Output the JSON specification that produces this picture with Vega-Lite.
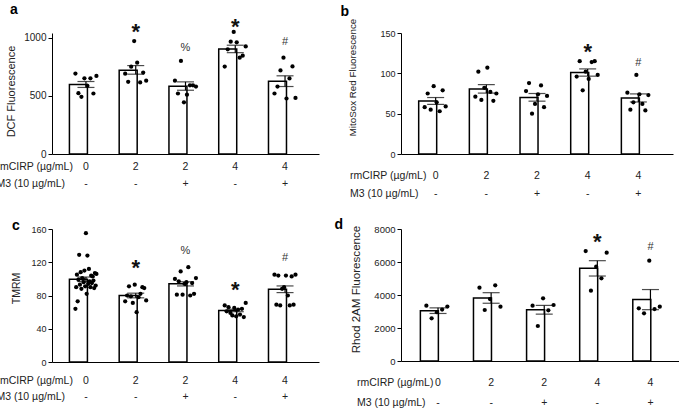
{
"$schema": "https://vega.github.io/schema/vega-lite/v6.json",
"background": "white",
"padding": {"left": -4, "top": 2, "right": 0, "bottom": 0},
"columns": 2,
"spacing": {"row": 17, "column": 15},
"config": {
 "font": "Liberation Sans",
 "view": {"stroke": null},
 "axis": {"labelColor": "#222", "titleColor": "#222", "domainColor": "#000", "tickColor": "#000", "domainWidth": 1, "titleFontWeight": "normal", "grid": false, "labelOverlap": false},
 "axisX": {"ticks": false, "tickSize": 0, "labelAngle": 0, "labelBaseline": "top", "titleAlign": "left", "titleBaseline": "top", "titleFontSize": 10.5, "labelFontSize": 10.5},
 "axisY": {"tickSize": 4, "labelPadding": 2, "titleBaseline": "middle", "titleAlign": "center", "titleAngle": -90, "format": "d", "labelOverlap": false},
 "title": {"fontSize": 14, "fontWeight": "bold", "anchor": "start", "frame": "group", "baseline": "alphabetic", "color": "#000"},
 "circle": {"size": 18, "opacity": 1, "color": "#000"},
 "text": {"color": "#222"}
},
"datasets": {
 "bars": [
  {"p":"a","g":"0|-","v":598,"lo":572,"hi":623},
  {"p":"a","g":"2|-","v":720,"lo":686,"hi":760},
  {"p":"a","g":"2|+","v":583,"lo":548,"hi":620},
  {"p":"a","g":"4|-","v":903,"lo":871,"hi":935},
  {"p":"a","g":"4|+","v":626,"lo":580,"hi":672},
  {"p":"b","g":"0|-","v":65.7,"lo":61.5,"hi":70},
  {"p":"b","g":"2|-","v":80.6,"lo":75.5,"hi":86},
  {"p":"b","g":"2|+","v":70,"lo":65.5,"hi":75},
  {"p":"b","g":"4|-","v":101,"lo":96.5,"hi":105.5},
  {"p":"b","g":"4|+","v":69.5,"lo":64.5,"hi":74.5},
  {"p":"c","g":"0|-","v":99.5,"lo":96.8,"hi":102.2},
  {"p":"c","g":"2|-","v":80,"lo":77.2,"hi":82.8},
  {"p":"c","g":"2|+","v":94,"lo":91.5,"hi":96.5},
  {"p":"c","g":"4|-","v":62,"lo":60.5,"hi":63.5},
  {"p":"c","g":"4|+","v":87.5,"lo":83.5,"hi":91.5},
  {"p":"d","g":"0|-","v":3050,"lo":2880,"hi":3220},
  {"p":"d","g":"2|-","v":3820,"lo":3500,"hi":4140},
  {"p":"d","g":"2|+","v":3100,"lo":2840,"hi":3370},
  {"p":"d","g":"4|-","v":5620,"lo":5150,"hi":6080},
  {"p":"d","g":"4|+","v":3720,"lo":3110,"hi":4330}
 ],
 "sig": [
  {"p":"a","g":"2|-","s":"*","v":1090},
  {"p":"a","g":"2|+","s":"%","v":912},
  {"p":"a","g":"4|-","s":"*","v":1136},
  {"p":"a","g":"4|+","s":"#","v":961},
  {"p":"b","g":"4|-","s":"*","v":133},
  {"p":"b","g":"4|+","s":"#","v":112.6},
  {"p":"c","g":"2|-","s":"*","v":118.6},
  {"p":"c","g":"2|+","s":"%","v":134},
  {"p":"c","g":"4|-","s":"*","v":92.5},
  {"p":"c","g":"4|+","s":"#","v":125.6},
  {"p":"d","g":"4|-","s":"*","v":7503},
  {"p":"d","g":"4|+","s":"#","v":6879}
 ],
 "pts": [
  {"p":"a","g":"0|-","r":1,"v":691},{"p":"a","g":"0|-","r":2,"v":523},{"p":"a","g":"0|-","r":3,"v":491},{"p":"a","g":"0|-","r":4,"v":651},{"p":"a","g":"0|-","r":5,"v":586},{"p":"a","g":"0|-","r":6,"v":651},{"p":"a","g":"0|-","r":7,"v":520},{"p":"a","g":"0|-","r":8,"v":671},
  {"p":"a","g":"2|-","r":1,"v":690},{"p":"a","g":"2|-","r":2,"v":620},{"p":"a","g":"2|-","r":3,"v":750},{"p":"a","g":"2|-","r":4,"v":971},{"p":"a","g":"2|-","r":5,"v":785},{"p":"a","g":"2|-","r":6,"v":615},{"p":"a","g":"2|-","r":7,"v":700},{"p":"a","g":"2|-","r":8,"v":630},
  {"p":"a","g":"2|+","r":1,"v":630},{"p":"a","g":"2|+","r":2,"v":520},{"p":"a","g":"2|+","r":3,"v":800},{"p":"a","g":"2|+","r":4,"v":444},{"p":"a","g":"2|+","r":5,"v":510},{"p":"a","g":"2|+","r":6,"v":590},{"p":"a","g":"2|+","r":7,"v":590},{"p":"a","g":"2|+","r":8,"v":580},
  {"p":"a","g":"4|-","r":1,"v":752},{"p":"a","g":"4|-","r":2,"v":900},{"p":"a","g":"4|-","r":3,"v":965},{"p":"a","g":"4|-","r":4,"v":1049},{"p":"a","g":"4|-","r":5,"v":960},{"p":"a","g":"4|-","r":6,"v":828},{"p":"a","g":"4|-","r":7,"v":845},{"p":"a","g":"4|-","r":8,"v":925},
  {"p":"a","g":"4|+","r":1,"v":520},{"p":"a","g":"4|+","r":2,"v":580},{"p":"a","g":"4|+","r":3,"v":718},{"p":"a","g":"4|+","r":4,"v":828},{"p":"a","g":"4|+","r":5,"v":477},{"p":"a","g":"4|+","r":6,"v":650},{"p":"a","g":"4|+","r":7,"v":753},{"p":"a","g":"4|+","r":8,"v":482},
  {"p":"b","g":"0|-","r":1,"v":58},{"p":"b","g":"0|-","r":2,"v":75},{"p":"b","g":"0|-","r":3,"v":55},{"p":"b","g":"0|-","r":4,"v":84},{"p":"b","g":"0|-","r":5,"v":64},{"p":"b","g":"0|-","r":6,"v":53},{"p":"b","g":"0|-","r":7,"v":79},{"p":"b","g":"0|-","r":8,"v":59},
  {"p":"b","g":"2|-","r":1,"v":71},{"p":"b","g":"2|-","r":2,"v":102},{"p":"b","g":"2|-","r":3,"v":67},{"p":"b","g":"2|-","r":4,"v":82},{"p":"b","g":"2|-","r":5,"v":107},{"p":"b","g":"2|-","r":6,"v":77},{"p":"b","g":"2|-","r":7,"v":66},{"p":"b","g":"2|-","r":8,"v":75},
  {"p":"b","g":"2|+","r":1,"v":78},{"p":"b","g":"2|+","r":2,"v":88},{"p":"b","g":"2|+","r":3,"v":50},{"p":"b","g":"2|+","r":4,"v":62},{"p":"b","g":"2|+","r":5,"v":74},{"p":"b","g":"2|+","r":6,"v":85},{"p":"b","g":"2|+","r":7,"v":58},{"p":"b","g":"2|+","r":8,"v":72},
  {"p":"b","g":"4|-","r":1,"v":96},{"p":"b","g":"4|-","r":2,"v":115},{"p":"b","g":"4|-","r":3,"v":79},{"p":"b","g":"4|-","r":4,"v":102},{"p":"b","g":"4|-","r":5,"v":93},{"p":"b","g":"4|-","r":6,"v":114},{"p":"b","g":"4|-","r":7,"v":115},{"p":"b","g":"4|-","r":8,"v":98},
  {"p":"b","g":"4|+","r":1,"v":76},{"p":"b","g":"4|+","r":2,"v":55},{"p":"b","g":"4|+","r":3,"v":64},{"p":"b","g":"4|+","r":4,"v":98},{"p":"b","g":"4|+","r":5,"v":74},{"p":"b","g":"4|+","r":6,"v":62},{"p":"b","g":"4|+","r":7,"v":54},{"p":"b","g":"4|+","r":8,"v":73},
  {"p":"c","g":"0|-","r":1,"v":64},{"p":"c","g":"0|-","r":2,"v":90},{"p":"c","g":"0|-","r":3,"v":105},{"p":"c","g":"0|-","r":4,"v":73},{"p":"c","g":"0|-","r":5,"v":99},{"p":"c","g":"0|-","r":6,"v":129},{"p":"c","g":"0|-","r":7,"v":93},{"p":"c","g":"0|-","r":8,"v":108},{"p":"c","g":"0|-","r":9,"v":88},{"p":"c","g":"0|-","r":10,"v":101},{"p":"c","g":"0|-","r":11,"v":100},{"p":"c","g":"0|-","r":12,"v":96},{"p":"c","g":"0|-","r":13,"v":110},{"p":"c","g":"0|-","r":14,"v":91},{"p":"c","g":"0|-","r":15,"v":155},{"p":"c","g":"0|-","r":16,"v":82},{"p":"c","g":"0|-","r":17,"v":128},{"p":"c","g":"0|-","r":18,"v":94},{"p":"c","g":"0|-","r":19,"v":112},{"p":"c","g":"0|-","r":20,"v":97},{"p":"c","g":"0|-","r":21,"v":90},{"p":"c","g":"0|-","r":22,"v":104},{"p":"c","g":"0|-","r":23,"v":95},{"p":"c","g":"0|-","r":24,"v":103},{"p":"c","g":"0|-","r":25,"v":98},{"p":"c","g":"0|-","r":26,"v":89},{"p":"c","g":"0|-","r":27,"v":107},{"p":"c","g":"0|-","r":28,"v":92},{"p":"c","g":"0|-","r":29,"v":106},
  {"p":"c","g":"2|-","r":1,"v":73},{"p":"c","g":"2|-","r":2,"v":80},{"p":"c","g":"2|-","r":3,"v":91},{"p":"c","g":"2|-","r":4,"v":79},{"p":"c","g":"2|-","r":5,"v":71},{"p":"c","g":"2|-","r":6,"v":93},{"p":"c","g":"2|-","r":7,"v":60},{"p":"c","g":"2|-","r":8,"v":78},{"p":"c","g":"2|-","r":9,"v":82},{"p":"c","g":"2|-","r":10,"v":90},{"p":"c","g":"2|-","r":11,"v":89},{"p":"c","g":"2|-","r":12,"v":74},
  {"p":"c","g":"2|+","r":1,"v":100},{"p":"c","g":"2|+","r":2,"v":81},{"p":"c","g":"2|+","r":3,"v":97},{"p":"c","g":"2|+","r":4,"v":109},{"p":"c","g":"2|+","r":5,"v":81},{"p":"c","g":"2|+","r":6,"v":94},{"p":"c","g":"2|+","r":7,"v":96},{"p":"c","g":"2|+","r":8,"v":114},{"p":"c","g":"2|+","r":9,"v":80},{"p":"c","g":"2|+","r":10,"v":95},{"p":"c","g":"2|+","r":11,"v":82},{"p":"c","g":"2|+","r":12,"v":101},
  {"p":"c","g":"4|-","r":1,"v":68},{"p":"c","g":"4|-","r":2,"v":61},{"p":"c","g":"4|-","r":3,"v":66},{"p":"c","g":"4|-","r":4,"v":59},{"p":"c","g":"4|-","r":5,"v":56},{"p":"c","g":"4|-","r":6,"v":65},{"p":"c","g":"4|-","r":7,"v":55},{"p":"c","g":"4|-","r":8,"v":63},{"p":"c","g":"4|-","r":9,"v":57},{"p":"c","g":"4|-","r":10,"v":64},{"p":"c","g":"4|-","r":11,"v":54},{"p":"c","g":"4|-","r":12,"v":71},
  {"p":"c","g":"4|+","r":1,"v":105},{"p":"c","g":"4|+","r":2,"v":69},{"p":"c","g":"4|+","r":3,"v":104},{"p":"c","g":"4|+","r":4,"v":68},{"p":"c","g":"4|+","r":5,"v":88},{"p":"c","g":"4|+","r":6,"v":90},{"p":"c","g":"4|+","r":7,"v":104},{"p":"c","g":"4|+","r":8,"v":80},{"p":"c","g":"4|+","r":9,"v":68},{"p":"c","g":"4|+","r":10,"v":103},{"p":"c","g":"4|+","r":11,"v":69},{"p":"c","g":"4|+","r":12,"v":105},
  {"p":"d","g":"0|-","r":1,"v":3350},{"p":"d","g":"0|-","r":2,"v":2590},{"p":"d","g":"0|-","r":3,"v":2960},{"p":"d","g":"0|-","r":4,"v":3120},{"p":"d","g":"0|-","r":5,"v":3300},
  {"p":"d","g":"2|-","r":1,"v":4444},{"p":"d","g":"2|-","r":2,"v":3091},{"p":"d","g":"2|-","r":3,"v":3757},{"p":"d","g":"2|-","r":4,"v":4585},{"p":"d","g":"2|-","r":5,"v":3293},
  {"p":"d","g":"2|+","r":1,"v":3353},{"p":"d","g":"2|+","r":2,"v":2121},{"p":"d","g":"2|+","r":3,"v":3798},{"p":"d","g":"2|+","r":4,"v":3070},{"p":"d","g":"2|+","r":5,"v":3394},
  {"p":"d","g":"4|-","r":1,"v":6666},{"p":"d","g":"4|-","r":2,"v":4262},{"p":"d","g":"4|-","r":3,"v":5717},{"p":"d","g":"4|-","r":4,"v":5010},{"p":"d","g":"4|-","r":5,"v":6565},
  {"p":"d","g":"4|+","r":1,"v":3192},{"p":"d","g":"4|+","r":2,"v":2889},{"p":"d","g":"4|+","r":3,"v":6080},{"p":"d","g":"4|+","r":4,"v":3151},{"p":"d","g":"4|+","r":5,"v":3293}
 ]
},
"concat": [
 {
  "width": 267, "height": 121,
  "title": {"text": "a", "dx": -42, "offset": -1},
  "encoding": {"x": {"field": "g", "type": "nominal", "sort": ["0|-","2|-","2|+","4|-","4|+"], "scale": {"paddingInner": 0.335, "paddingOuter": 0.35},
   "axis": {"title": ["rmCIRP (µg/mL)", "M3 (10 µg/mL)"], "titleX": -56, "titleY": 7, "titleLineHeight": 17.6, "labelExpr": "split(datum.value, '|')", "labelPadding": 7, "labelLineHeight": 17.6}}},
  "layer": [
   {"data": {"name": "bars"}, "transform": [{"filter": "datum.p === 'a'"}], "mark": {"type": "bar", "fill": "white", "stroke": "black", "strokeWidth": 1.5},
    "encoding": {"y": {"field": "v", "type": "quantitative", "scale": {"domain": [0, 1040], "nice": false}, "axis": {"title": "DCF Fluorescence", "values": [0, 500, 1000], "tickCount": 10, "labelOverlap": false, "titleX": -40.3, "titleY": 58, "titleFontSize": 11, "labelFontSize": 10}}}},
   {"data": {"name": "bars"}, "transform": [{"filter": "datum.p === 'a'"}], "mark": {"type": "rule", "color": "black", "strokeWidth": 1.2}, "encoding": {"y": {"field": "lo", "type": "quantitative"}, "y2": {"field": "hi"}}},
   {"data": {"name": "bars"}, "transform": [{"filter": "datum.p === 'a'"}], "mark": {"type": "tick", "color": "black", "thickness": 1.2, "size": 17}, "encoding": {"y": {"field": "lo", "type": "quantitative"}}},
   {"data": {"name": "bars"}, "transform": [{"filter": "datum.p === 'a'"}], "mark": {"type": "tick", "color": "black", "thickness": 1.2, "size": 17}, "encoding": {"y": {"field": "hi", "type": "quantitative"}}},
   {"data": {"name": "pts"}, "transform": [{"filter": "datum.p === 'a'"}, {"window": [{"op": "percent_rank", "as": "slot"}], "groupby": ["g"], "sort": [{"field": "r"}]}], "mark": {"type": "circle"},
    "encoding": {"y": {"field": "v", "type": "quantitative"}, "xOffset": {"field": "slot", "type": "quantitative", "scale": {"domain": [0, 1], "range": [6, 27]}}}},
   {"data": {"name": "sig"}, "transform": [{"filter": "datum.p === 'a' && datum.s === '*'"}], "mark": {"type": "text", "fontSize": 22, "fontWeight": "bold", "dy": 5, "baseline": "middle", "fill": "#111"}, "encoding": {"y": {"field": "v", "type": "quantitative"}, "text": {"field": "s"}}},
   {"data": {"name": "sig"}, "transform": [{"filter": "datum.p === 'a' && datum.s !== '*'"}], "mark": {"type": "text", "fontSize": 11, "baseline": "middle", "fill": "#333"}, "encoding": {"y": {"field": "v", "type": "quantitative"}, "text": {"field": "s"}}}
  ]
 },
 {
  "width": 272, "height": 121,
  "title": {"text": "b", "dx": -60.5, "offset": -0.5},
  "encoding": {"x": {"field": "g", "type": "nominal", "sort": ["0|-","2|-","2|+","4|-","4|+"], "scale": {"paddingInner": 0.33, "paddingOuter": 0.349},
   "axis": {"title": ["rmCIRP (µg/mL)", "M3 (10 µg/mL)"], "titleX": -51.5, "titleY": 16, "titleLineHeight": 18.7, "labelExpr": "split(datum.value, '|')", "labelPadding": 16, "labelLineHeight": 18.7}}},
  "layer": [
   {"data": {"name": "bars"}, "transform": [{"filter": "datum.p === 'b'"}], "mark": {"type": "bar", "fill": "white", "stroke": "black", "strokeWidth": 1.5},
    "encoding": {"y": {"field": "v", "type": "quantitative", "scale": {"domain": [0, 150], "nice": false}, "axis": {"title": "MitoSox Red Fluorescence", "values": [0, 50, 100, 150], "tickCount": 10, "labelOverlap": false, "titleX": -48.8, "titleY": 44, "titleFontSize": 9.8, "labelFontSize": 9}}}},
   {"data": {"name": "bars"}, "transform": [{"filter": "datum.p === 'b'"}], "mark": {"type": "rule", "color": "black", "strokeWidth": 1.2}, "encoding": {"y": {"field": "lo", "type": "quantitative"}, "y2": {"field": "hi"}}},
   {"data": {"name": "bars"}, "transform": [{"filter": "datum.p === 'b'"}], "mark": {"type": "tick", "color": "black", "thickness": 1.2, "size": 17}, "encoding": {"y": {"field": "lo", "type": "quantitative"}}},
   {"data": {"name": "bars"}, "transform": [{"filter": "datum.p === 'b'"}], "mark": {"type": "tick", "color": "black", "thickness": 1.2, "size": 17}, "encoding": {"y": {"field": "hi", "type": "quantitative"}}},
   {"data": {"name": "pts"}, "transform": [{"filter": "datum.p === 'b'"}, {"window": [{"op": "percent_rank", "as": "slot"}], "groupby": ["g"], "sort": [{"field": "r"}]}], "mark": {"type": "circle"},
    "encoding": {"y": {"field": "v", "type": "quantitative"}, "xOffset": {"field": "slot", "type": "quantitative", "scale": {"domain": [0, 1], "range": [6, 28]}}}},
   {"data": {"name": "sig"}, "transform": [{"filter": "datum.p === 'b' && datum.s === '*'"}], "mark": {"type": "text", "fontSize": 22, "fontWeight": "bold", "dy": 5, "baseline": "middle", "fill": "#111"}, "encoding": {"y": {"field": "v", "type": "quantitative"}, "text": {"field": "s"}}},
   {"data": {"name": "sig"}, "transform": [{"filter": "datum.p === 'b' && datum.s !== '*'"}], "mark": {"type": "text", "fontSize": 11, "baseline": "middle", "fill": "#333"}, "encoding": {"y": {"field": "v", "type": "quantitative"}, "text": {"field": "s"}}}
  ]
 },
 {
  "width": 267, "height": 133,
  "title": {"text": "c", "dx": -40, "offset": -8},
  "encoding": {"x": {"field": "g", "type": "nominal", "sort": ["0|-","2|-","2|+","4|-","4|+"], "scale": {"paddingInner": 0.335, "paddingOuter": 0.35},
   "axis": {"title": ["rmCIRP (µg/mL)", "M3 (10 µg/mL)"], "titleX": -56, "titleY": 13, "titleLineHeight": 16.7, "labelExpr": "split(datum.value, '|')", "labelPadding": 13, "labelLineHeight": 16.7}}},
  "layer": [
   {"data": {"name": "bars"}, "transform": [{"filter": "datum.p === 'c'"}], "mark": {"type": "bar", "fill": "white", "stroke": "black", "strokeWidth": 1.5},
    "encoding": {"y": {"field": "v", "type": "quantitative", "scale": {"domain": [0, 160], "nice": false}, "axis": {"title": "TMRM", "values": [0, 40, 80, 120, 160], "tickCount": 10, "labelOverlap": false, "titleX": -35.6, "titleY": 59, "titleFontSize": 10.5, "labelFontSize": 9}}}},
   {"data": {"name": "bars"}, "transform": [{"filter": "datum.p === 'c'"}], "mark": {"type": "rule", "color": "black", "strokeWidth": 1.2}, "encoding": {"y": {"field": "lo", "type": "quantitative"}, "y2": {"field": "hi"}}},
   {"data": {"name": "bars"}, "transform": [{"filter": "datum.p === 'c'"}], "mark": {"type": "tick", "color": "black", "thickness": 1.2, "size": 17}, "encoding": {"y": {"field": "lo", "type": "quantitative"}}},
   {"data": {"name": "bars"}, "transform": [{"filter": "datum.p === 'c'"}], "mark": {"type": "tick", "color": "black", "thickness": 1.2, "size": 17}, "encoding": {"y": {"field": "hi", "type": "quantitative"}}},
   {"data": {"name": "pts"}, "transform": [{"filter": "datum.p === 'c'"}, {"window": [{"op": "percent_rank", "as": "slot"}], "groupby": ["g"], "sort": [{"field": "r"}]}], "mark": {"type": "circle"},
    "encoding": {"y": {"field": "v", "type": "quantitative"}, "xOffset": {"field": "slot", "type": "quantitative", "scale": {"domain": [0, 1], "range": [3, 30]}}}},
   {"data": {"name": "sig"}, "transform": [{"filter": "datum.p === 'c' && datum.s === '*'"}], "mark": {"type": "text", "fontSize": 22, "fontWeight": "bold", "dy": 5, "baseline": "middle", "fill": "#111"}, "encoding": {"y": {"field": "v", "type": "quantitative"}, "text": {"field": "s"}}},
   {"data": {"name": "sig"}, "transform": [{"filter": "datum.p === 'c' && datum.s !== '*'"}], "mark": {"type": "text", "fontSize": 11, "baseline": "middle", "fill": "#333"}, "encoding": {"y": {"field": "v", "type": "quantitative"}, "text": {"field": "s"}}}
  ]
 },
 {
  "width": 278, "height": 132,
  "title": {"text": "d", "dx": -66.5, "offset": -7.75},
  "encoding": {"x": {"field": "g", "type": "nominal", "sort": ["0|-","2|-","2|+","4|-","4|+"], "scale": {"paddingInner": 0.335, "paddingOuter": 0.285, "align": 0.64},
   "axis": {"title": ["rmCIRP (µg/mL)", "M3 (10 µg/mL)"], "titleX": -44.5, "titleY": 16, "titleLineHeight": 20, "labelExpr": "split(datum.value, '|')", "labelPadding": 16, "labelLineHeight": 20}}},
  "layer": [
   {"data": {"name": "bars"}, "transform": [{"filter": "datum.p === 'd'"}], "mark": {"type": "bar", "fill": "white", "stroke": "black", "strokeWidth": 1.5},
    "encoding": {"y": {"field": "v", "type": "quantitative", "scale": {"domain": [0, 8000], "nice": false}, "axis": {"title": "Rhod 2AM Fluorescence", "values": [0, 2000, 4000, 6000, 8000], "tickCount": 10, "labelOverlap": false, "titleX": -44.5, "titleY": 60, "titleFontSize": 11.6, "labelFontSize": 9.5}}}},
   {"data": {"name": "bars"}, "transform": [{"filter": "datum.p === 'd'"}], "mark": {"type": "rule", "color": "black", "strokeWidth": 1.2}, "encoding": {"y": {"field": "lo", "type": "quantitative"}, "y2": {"field": "hi"}}},
   {"data": {"name": "bars"}, "transform": [{"filter": "datum.p === 'd'"}], "mark": {"type": "tick", "color": "black", "thickness": 1.2, "size": 17}, "encoding": {"y": {"field": "lo", "type": "quantitative"}}},
   {"data": {"name": "bars"}, "transform": [{"filter": "datum.p === 'd'"}], "mark": {"type": "tick", "color": "black", "thickness": 1.2, "size": 17}, "encoding": {"y": {"field": "hi", "type": "quantitative"}}},
   {"data": {"name": "pts"}, "transform": [{"filter": "datum.p === 'd'"}, {"window": [{"op": "percent_rank", "as": "slot"}], "groupby": ["g"], "sort": [{"field": "r"}]}], "mark": {"type": "circle"},
    "encoding": {"y": {"field": "v", "type": "quantitative"}, "xOffset": {"field": "slot", "type": "quantitative", "scale": {"domain": [0, 1], "range": [9, 27]}}}},
   {"data": {"name": "sig"}, "transform": [{"filter": "datum.p === 'd' && datum.s === '*'"}], "mark": {"type": "text", "fontSize": 22, "fontWeight": "bold", "dy": 5, "baseline": "middle", "fill": "#111"}, "encoding": {"y": {"field": "v", "type": "quantitative"}, "text": {"field": "s"}}},
   {"data": {"name": "sig"}, "transform": [{"filter": "datum.p === 'd' && datum.s !== '*'"}], "mark": {"type": "text", "fontSize": 11, "baseline": "middle", "fill": "#333"}, "encoding": {"y": {"field": "v", "type": "quantitative"}, "text": {"field": "s"}}}
  ]
 }
]
}
